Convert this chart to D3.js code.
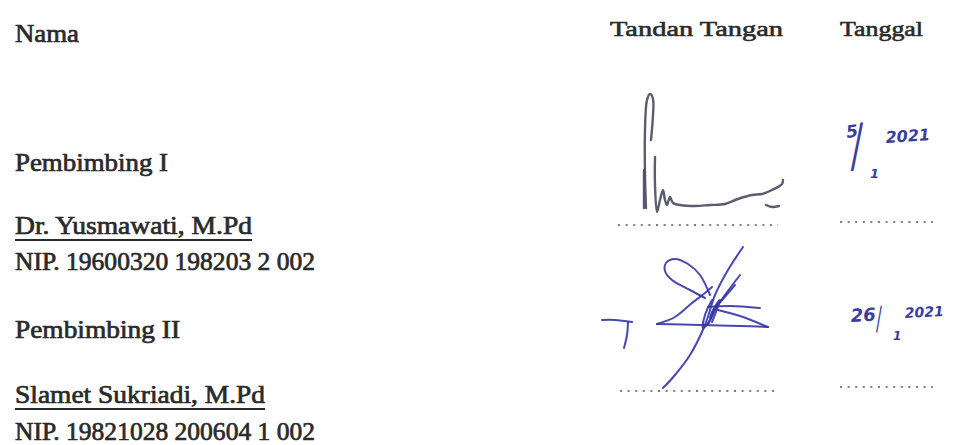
<!DOCTYPE html>
<html>
<head>
<meta charset="utf-8">
<script src="https://cdn.jsdelivr.net/npm/d3@7"></script>
<style>
  body { margin: 0; background: #fff; }
</style>
</head>
<body>
<div class="sheet"></div>
<script>
// texts of the form
var leftLabels = ["Nama", "Pembimbing I", "Dr. Yusmawati, M.Pd", "NIP. 19600320 198203 2 002",
                  "Pembimbing II", "Slamet Sukriadi, M.Pd", "NIP. 19821028 200604 1 002"];
var headerLabels = ["Tandan Tangan", "Tanggal"];
var underlinedNames = ["Dr. Yusmawati, M.Pd", "Slamet Sukriadi, M.Pd"];
var date1Parts = ["5", "/", "1", "2021"];
var date2Parts = ["26", "/", "1", "2021"];

// pen strokes of the two signatures (pixel units inside each signature box)
var sig1Strokes = [
    [[6,118],[5,85],[5,40],[7,10],[10,4],[13,9],[13,25],[11,50]],
    [[4,80],[4,118]],
    [[15,67],[15,95],[17,122],[20,110],[23,100],[25,110],[27,115],[30,107],[33,113],[40,115],[55,116],[70,115],[85,114],[98,109],[112,105],[122,104],[132,100],[142,94],[143,90]],
    [[126,115],[132,117],[139,116]]
];
var sig2Strokes = [
    [[2,80],[15,80],[32,82]],
    [[28,82],[27,95],[24,108]],
    [[57,84],[100,85],[140,86],[168,87]],
    [[57,84],[75,77],[92,63],[105,53],[112,47]],
    [[110,55],[100,35],[88,24],[75,19],[66,23],[65,31],[72,40],[90,50],[105,58]],
    [[143,7],[128,30],[115,55],[105,85],[90,115],[75,135],[63,148]],
    [[140,35],[125,55],[115,70],[108,85]],
    [[135,45],[122,60],[113,70],[110,78]],
    [[108,67],[130,66],[160,68]],
    [[118,70],[140,76],[168,87]],
    [[112,60],[105,75],[103,88],[110,80],[116,65],[120,60],[112,82]]
];

var W = 957, H = 445;

var svg = d3.select(".sheet")
    .append("svg")
    .attr("width", W)
    .attr("height", H)
    .style("background", "#fff");

// layout of the rows
var leftX = 15;
var leftBase = d3.scaleOrdinal().domain(leftLabels).range([42, 171, 234, 270, 338, 403, 440]);
var leftWidth = d3.scaleOrdinal().domain(leftLabels).range([64, 153, 237, 300, 165, 250, 300]);
var headX = d3.scaleOrdinal().domain(headerLabels).range([610, 840]);
var headWidth = d3.scaleOrdinal().domain(headerLabels).range([173, 83]);

var ink = "#2a2a2a";
var serif = "Liberation Serif, Times New Roman, Times, serif";

svg.selectAll(".left")
    .data(leftLabels)
    .enter()
    .append("text")
    .attr("class", "left")
    .attr("x", leftX)
    .attr("y", function(d){ return leftBase(d); })
    .attr("textLength", function(d){ return leftWidth(d); })
    .attr("lengthAdjust", "spacingAndGlyphs")
    .attr("font-family", serif)
    .attr("font-size", 25)
    .attr("fill", ink)
    .attr("stroke", ink)
    .attr("stroke-width", 0.7)
    .text(function(d){ return d; });

svg.selectAll(".uline")
    .data(underlinedNames)
    .enter()
    .append("line")
    .attr("class", "uline")
    .attr("x1", leftX)
    .attr("x2", function(d){ return leftX + leftWidth(d); })
    .attr("y1", function(d){ return leftBase(d) + 6; })
    .attr("y2", function(d){ return leftBase(d) + 6; })
    .style("stroke", ink)
    .style("stroke-width", 1.8);

svg.selectAll(".head")
    .data(headerLabels)
    .enter()
    .append("text")
    .attr("class", "head")
    .attr("x", function(d){ return headX(d); })
    .attr("y", 36)
    .attr("textLength", function(d){ return headWidth(d); })
    .attr("lengthAdjust", "spacingAndGlyphs")
    .attr("font-family", serif)
    .attr("font-size", 22)
    .attr("fill", ink)
    .attr("stroke", ink)
    .attr("stroke-width", 0.6)
    .text(function(d){ return d; });

// dotted lines for signature and date
var dotRows = [
    {x0: 618, x1: 778, y: 225},
    {x0: 840, x1: 933, y: 222},
    {x0: 620, x1: 778, y: 391},
    {x0: 840, x1: 933, y: 387}
];
svg.selectAll(".dots")
    .data(dotRows)
    .enter()
    .append("line")
    .attr("class", "dots")
    .attr("x1", function(d){ return d.x0; })
    .attr("x2", function(d){ return d.x1; })
    .attr("y1", function(d){ return d.y; })
    .attr("y2", function(d){ return d.y; })
    .style("stroke", "#7d7d86")
    .style("stroke-width", 2)
    .style("stroke-dasharray", "2,5.6");

// signatures
function drawSignature(strokes, box, color, width){
    var sx = d3.scaleLinear().domain([0, box.w]).range([box.x, box.x + box.w]);
    var sy = d3.scaleLinear().domain([0, box.h]).range([box.y, box.y + box.h]);
    var line = d3.line()
        .x(function(p){ return sx(p[0]); })
        .y(function(p){ return sy(p[1]); })
        .curve(d3.curveCatmullRom.alpha(0.5));
    svg.append("g")
        .selectAll("path")
        .data(strokes)
        .enter()
        .append("path")
        .attr("d", line)
        .style("fill", "none")
        .style("stroke", color)
        .style("stroke-width", width)
        .style("stroke-linecap", "round")
        .style("stroke-linejoin", "round")
        .style("opacity", 0.9);
}
drawSignature(sig1Strokes, {x: 640, y: 90, w: 150, h: 130}, "#4a4a5e", 2.4);
drawSignature(sig2Strokes, {x: 600, y: 240, w: 170, h: 155}, "#3434a6", 2);

// handwritten dates
var blue = "#3c3c9c";
var date1Style = [
    {x: 847, y: 138, size: 17, rot: -8, sx: 1},
    {x: 853, y: 166, size: 58, rot: 0, sx: 0.4},
    {x: 870, y: 178, size: 13, rot: 0, sx: 1},
    {x: 886, y: 143, size: 16, rot: -4, sx: 1}
];
var date2Style = [
    {x: 851, y: 322, size: 18, rot: -3, sx: 1},
    {x: 877, y: 329, size: 32, rot: 0, sx: 0.35},
    {x: 893, y: 340, size: 12, rot: 0, sx: 1},
    {x: 905, y: 318, size: 14, rot: -3, sx: 1}
];
function drawDate(parts, styles){
    svg.append("g")
        .selectAll("text")
        .data(parts)
        .enter()
        .append("text")
        .attr("transform", function(d, i){
            var s = styles[i];
            return "translate(" + s.x + "," + s.y + ") rotate(" + s.rot + ") scale(" + s.sx + ",1)";
        })
        .attr("font-family", "DejaVu Sans, sans-serif")
        .attr("font-weight", "bold")
        .attr("font-style", "italic")
        .attr("font-size", function(d, i){ return styles[i].size; })
        .attr("fill", blue)
        .text(function(d){ return d; });
}
drawDate(date1Parts, date1Style);
drawDate(date2Parts, date2Style);
</script>
</body>
</html>
